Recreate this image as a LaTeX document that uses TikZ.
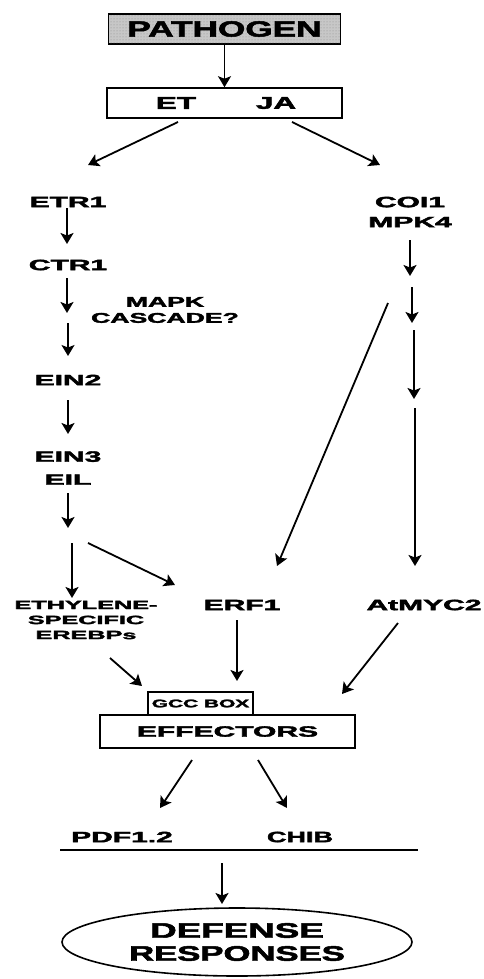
\documentclass[tikz,border=0pt]{standalone}
\usepackage{fontspec}
\setmainfont{Liberation Sans}[BoldFeatures={FakeBold=2.2}]
\usepackage{graphicx}
\usetikzlibrary{arrows.meta,shapes.geometric,patterns}
\newcommand\wtxt[2][2]{\scalebox{#1}[1]{\bfseries #2}}
\tikzset{
  lbl/.style={inner sep=0pt, align=center, font=\fontsize{15}{20}\selectfont\bfseries},
  arr/.style={-{Stealth[length=11pt,width=13pt,inset=2.5pt]}, line width=1.8pt},
  boxn/.style={draw, line width=1.6pt, inner sep=0pt, rectangle},
}
\begin{document}
\begin{tikzpicture}[x=1pt,y=-1pt]
\useasboundingbox (0,0) rectangle (483,979);
% top boxes
\node[boxn, fill=black!22, postaction={pattern=dots, pattern color=black!45},
  minimum width=232pt, minimum height=30pt] (pathogen) at (224.5,29)
  {\fontsize{22}{24}\selectfont\wtxt[1.6]{PATHOGEN}};
\node[boxn, minimum width=235pt, minimum height=30pt] (etja) at (224.5,103) {};
\node[lbl, font=\fontsize{17}{20}\selectfont] (et) at (176,103) {\wtxt[1.85]{ET}};
\node[lbl, font=\fontsize{17}{20}\selectfont] (ja) at (276,103) {\wtxt[1.85]{JA}};
% left column labels
\node[lbl] (etr1) at (68,202) {\wtxt{ETR1}};
\node[lbl] (ctr1) at (68,265) {\wtxt{CTR1}};
\node[lbl, font=\fontsize{14}{16}\selectfont] (mapk) at (165,310) {\wtxt[1.9]{MAPK}\\\wtxt[1.9]{CASCADE?}};
\node[lbl] (ein2) at (68,380) {\wtxt{EIN2}};
\node[lbl, font=\fontsize{15}{23}\selectfont] (ein3) at (68,468) {\wtxt{EIN3}\\\wtxt{EIL}};
% right column labels
\node[lbl] (coi1) at (410,212) {\wtxt{COI1}\\\wtxt{MPK4}};
% middle row
\node[lbl] (erf1) at (242,605) {\wtxt{ERF1}};
\node[lbl] (myc2) at (424,605) {\wtxt{AtMYC2}};
\node[lbl, font=\fontsize{12}{15}\selectfont] (ethyl) at (86,620) {\wtxt[2.1]{ETHYLENE-}\\\wtxt[2.1]{SPECIFIC}\\\wtxt[2.1]{EREBPs}};
% effector boxes
\node[boxn, minimum width=105pt, minimum height=23pt] (gcc) at (200.5,703.5)
  {\fontsize{11}{12}\selectfont\wtxt[1.9]{GCC BOX}};
\node[boxn, minimum width=255pt, minimum height=33pt] (eff) at (227.5,731.5)
  {\fontsize{15}{17}\selectfont\wtxt{EFFECTORS}};
% outputs
\node[lbl] (pdf) at (122,837) {\wtxt{PDF1.2}};
\node[lbl] (chib) at (300,837) {\wtxt[1.8]{CHIB}};
\coordinate (l1) at (60,850);
\coordinate (l2) at (418,850);
\draw[line width=1.4pt] (l1) -- (l2);
\node[draw, ellipse, line width=1.6pt, minimum width=350pt, minimum height=68pt, inner sep=0pt,
  align=center, font=\fontsize{21}{23}\selectfont] (def) at (237,942)
  {\wtxt[1.75]{DEFENSE}\\\wtxt[1.65]{RESPONSES}};
% arrow end points
\coordinate (a2s) at (178,122); \coordinate (a2e) at (88,165);
\coordinate (a3s) at (292,122); \coordinate (a3e) at (380,165);
\coordinate (a4s) at (67,208); \coordinate (a4e) at (67,244);
\coordinate (a5s) at (67,278); \coordinate (a5e) at (67,313);
\coordinate (a6s) at (68,323); \coordinate (a6e) at (68,356);
\coordinate (a7s) at (68,400); \coordinate (a7e) at (68,434);
\coordinate (a8s) at (68,493); \coordinate (a8e) at (68,528);
\coordinate (a9s) at (72,543); \coordinate (a9e) at (72,598);
\coordinate (a10s) at (88,543); \coordinate (a10e) at (175,585);
\coordinate (a11s) at (410,240); \coordinate (a11e) at (410,276);
\coordinate (a12s) at (412,287); \coordinate (a12e) at (412,323);
\coordinate (a13s) at (414,330); \coordinate (a13e) at (414,399);
\coordinate (a14s) at (415,408); \coordinate (a14e) at (415,566);
\coordinate (a15s) at (388,303); \coordinate (a15e) at (277,566);
\coordinate (a16s) at (110,658); \coordinate (a16e) at (142,686);
\coordinate (a17s) at (237,620); \coordinate (a17e) at (237,681);
\coordinate (a18s) at (398,623); \coordinate (a18e) at (342,694);
\coordinate (a19s) at (192,760); \coordinate (a19e) at (160,808);
\coordinate (a20s) at (258,760); \coordinate (a20e) at (287,808);
\coordinate (a21s) at (222,863); \coordinate (a21e) at (222,904);
% arrows
\draw[arr] (pathogen) -- (etja);
\draw[arr] (a2s) -- (a2e);
\draw[arr] (a3s) -- (a3e);
\draw[arr] (a4s) -- (a4e);
\draw[arr] (a5s) -- (a5e);
\draw[arr, line width=1.2pt] (a6s) -- (a6e);
\draw[arr] (a7s) -- (a7e);
\draw[arr] (a8s) -- (a8e);
\draw[arr] (a9s) -- (a9e);
\draw[arr] (a10s) -- (a10e);
\draw[arr] (a11s) -- (a11e);
\draw[arr] (a12s) -- (a12e);
\draw[arr] (a13s) -- (a13e);
\draw[arr] (a14s) -- (a14e);
\draw[arr] (a15s) -- (a15e);
\draw[arr] (a16s) -- (a16e);
\draw[arr] (a17s) -- (a17e);
\draw[arr] (a18s) -- (a18e);
\draw[arr] (a19s) -- (a19e);
\draw[arr] (a20s) -- (a20e);
\draw[arr] (a21s) -- (a21e);
\end{tikzpicture}
\end{document}
